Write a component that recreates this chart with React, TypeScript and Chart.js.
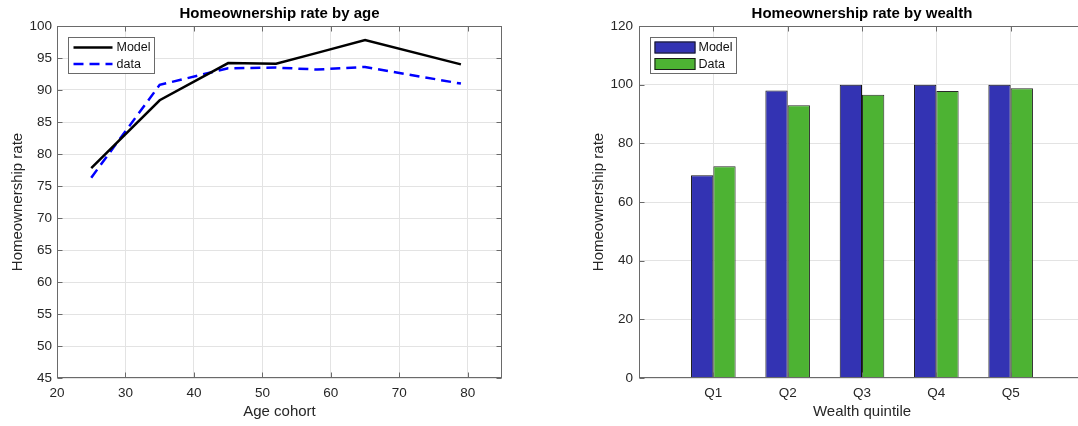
import React, { useEffect, useRef } from 'react';
import { Chart, registerables } from 'chart.js';

Chart.register(...registerables);

// ---------- data ----------
const ageCohorts = [25, 35, 45, 52, 58, 65, 79];
const modelByAge = [77.8, 88.4, 94.2, 94.1, 95.8, 97.8, 94.0];
const dataByAge = [76.3, 90.8, 93.4, 93.5, 93.2, 93.6, 91.0];

const quintiles = ['Q1', 'Q2', 'Q3', 'Q4', 'Q5'];
const modelByWealth = [69.1, 98.0, 100, 100, 100];
const dataByWealth = [72.2, 93.0, 96.6, 97.8, 98.8];

// ---------- style ----------
const FONT = "'Liberation Sans', Arial, Helvetica, sans-serif";
const AXIS = '#6a6a6a';
const GRID = '#e3e3e3';
const TEXT = '#262626';
const BLUE_BAR = 'rgb(51,51,179)';
const GREEN_BAR = 'rgb(77,179,51)';

type LegendItem = { label: string; kind: 'line' | 'patch'; color: string; dash?: number[] };

const matlabAxes = {
  id: 'matlabAxes',
  afterDraw(chart: any, _args: any, opts: any) {
    const { ctx, chartArea: a, scales } = chart;
    const L = Math.round(a.left) + 0.5;
    const R = Math.round(a.right) - 0.5;
    const T = Math.round(a.top) + 0.5;
    const B = Math.round(a.bottom) - 0.5;
    ctx.save();
    ctx.strokeStyle = AXIS;
    ctx.lineWidth = 1;
    // inside tick marks
    const tl = 5;
    ctx.beginPath();
    scales.x.ticks.forEach((t: any, i: number) => {
      if (t.label === '' || t.label === undefined) return;
      const px = Math.round(scales.x.getPixelForTick(i)) + 0.5;
      ctx.moveTo(px, B);
      ctx.lineTo(px, B - tl);
      ctx.moveTo(px, T);
      ctx.lineTo(px, T + tl);
    });
    scales.y.ticks.forEach((_t: any, i: number) => {
      const py = Math.round(scales.y.getPixelForTick(i)) + 0.5;
      ctx.moveTo(L, py);
      ctx.lineTo(L + tl, py);
      ctx.moveTo(R, py);
      ctx.lineTo(R - tl, py);
    });
    ctx.stroke();
    // box
    ctx.strokeRect(L, T, R - L, B - T);

    // legend
    const items: LegendItem[] = opts.items || [];
    if (items.length) {
      const bx = Math.round(a.left + 11) + 0.5;
      const by = Math.round(a.top + 10.5) + 0.5;
      const bw = 86;
      const bh = 36;
      ctx.fillStyle = '#ffffff';
      ctx.fillRect(bx, by, bw, bh);
      ctx.strokeStyle = AXIS;
      ctx.lineWidth = 1;
      ctx.strokeRect(bx, by, bw, bh);
      ctx.font = `12.5px ${FONT}`;
      ctx.textBaseline = 'middle';
      ctx.textAlign = 'left';
      items.forEach((it, i) => {
        const cy = by + 10 + i * 16.5;
        if (it.kind === 'line') {
          ctx.beginPath();
          ctx.strokeStyle = it.color;
          ctx.lineWidth = 2.5;
          ctx.setLineDash(it.dash || []);
          ctx.moveTo(bx + 5, cy);
          ctx.lineTo(bx + 44, cy);
          ctx.stroke();
          ctx.setLineDash([]);
        } else {
          ctx.fillStyle = it.color;
          ctx.fillRect(bx + 4, cy - 6, 41, 12);
          ctx.strokeStyle = '#1a1a1a';
          ctx.lineWidth = 1;
          ctx.strokeRect(bx + 4.5, cy - 5.5, 40, 11);
        }
        ctx.fillStyle = '#111';
        ctx.fillText(it.label, bx + 48, cy + 0.5);
      });
    }
    ctx.restore();
  },
};

function baseTitle(text: string) {
  return {
    display: true,
    text,
    color: '#000',
    font: { family: FONT, size: 15, weight: 'bold' as const },
    padding: { top: 5, bottom: 3 },
    fullSize: false,
  };
}

function axisTitle(text: string, padding: any) {
  return {
    display: true,
    text,
    color: TEXT,
    font: { family: FONT, size: 15 },
    padding,
  };
}

const tickFont = { family: FONT, size: 13.5 };

function AgeChart() {
  const ref = useRef<HTMLCanvasElement | null>(null);
  useEffect(() => {
    if (!ref.current) return;
    const chart = new Chart(ref.current, {
      type: 'line',
      data: {
        datasets: [
          {
            label: 'Model',
            data: ageCohorts.map((a, i) => ({ x: a, y: modelByAge[i] })),
            borderColor: '#000000',
            borderWidth: 2.5,
            pointRadius: 0,
            tension: 0,
          },
          {
            label: 'data',
            data: ageCohorts.map((a, i) => ({ x: a, y: dataByAge[i] })),
            borderColor: '#0000ff',
            borderWidth: 2.5,
            borderDash: [10, 6],
            pointRadius: 0,
            tension: 0,
          },
        ],
      },
      options: {
        animation: false,
        responsive: false,
        devicePixelRatio: 1,
        layout: { padding: { left: 0, right: 18, top: 0, bottom: 0 } },
        plugins: {
          legend: { display: false },
          tooltip: { enabled: false },
          title: baseTitle('Homeownership rate by age'),
          matlabAxes: {
            items: [
              { label: 'Model', kind: 'line', color: '#000000' },
              { label: 'data', kind: 'line', color: '#0000ff', dash: [10, 6] },
            ],
          },
        } as any,
        scales: {
          x: {
            type: 'linear',
            min: 20,
            max: 85,
            ticks: { stepSize: 10, includeBounds: false, font: tickFont, color: TEXT, padding: 7, maxRotation: 0 },
            grid: { color: GRID, drawTicks: false },
            border: { display: false },
            title: axisTitle('Age cohort', { top: 0, bottom: 5 }),
            afterFit: (s: any) => { s.height = 48; },
          },
          y: {
            type: 'linear',
            min: 45,
            max: 100,
            ticks: { stepSize: 5, font: tickFont, color: TEXT, padding: 5 },
            grid: { color: GRID, drawTicks: false },
            border: { display: false },
            title: axisTitle('Homeownership rate', { top: 9, bottom: 0 }),
            afterFit: (s: any) => { s.width = 57; },
          },
        },
      },
      plugins: [matlabAxes],
    } as any);
    return () => chart.destroy();
  }, []);
  return (
    <canvas
      ref={ref}
      width={520}
      height={426}
      style={{ position: 'absolute', left: 0, top: 0, width: 520, height: 426 }}
    />
  );
}

function WealthChart() {
  const ref = useRef<HTMLCanvasElement | null>(null);
  useEffect(() => {
    if (!ref.current) return;
    const labels = ['', ...quintiles, ''];
    const chart = new Chart(ref.current, {
      type: 'bar',
      data: {
        labels,
        datasets: [
          {
            label: 'Model',
            data: [null, ...modelByWealth, null],
            backgroundColor: BLUE_BAR,
            borderColor: '#141414',
            borderWidth: 1,
            borderSkipped: 'bottom',
            barPercentage: 1,
            categoryPercentage: 0.6,
          },
          {
            label: 'Data',
            data: [null, ...dataByWealth, null],
            backgroundColor: GREEN_BAR,
            borderColor: '#2a2a2a',
            borderWidth: 1,
            borderSkipped: 'bottom',
            barPercentage: 1,
            categoryPercentage: 0.6,
          },
        ],
      },
      options: {
        animation: false,
        responsive: false,
        devicePixelRatio: 1,
        layout: { padding: { left: 0, right: 15, top: 0, bottom: 0 } },
        plugins: {
          legend: { display: false },
          tooltip: { enabled: false },
          title: baseTitle('Homeownership rate by wealth'),
          matlabAxes: {
            items: [
              { label: 'Model', kind: 'patch', color: BLUE_BAR },
              { label: 'Data', kind: 'patch', color: GREEN_BAR },
            ],
          },
        } as any,
        scales: {
          x: {
            type: 'category',
            offset: false,
            ticks: { font: tickFont, color: TEXT, padding: 7, maxRotation: 0, autoSkip: false },
            grid: { color: GRID, drawTicks: false, offset: false },
            border: { display: false },
            title: axisTitle('Wealth quintile', { top: 0, bottom: 5 }),
            afterFit: (s: any) => { s.height = 48; },
          },
          y: {
            type: 'linear',
            min: 0,
            max: 120,
            ticks: { stepSize: 20, font: tickFont, color: TEXT, padding: 6 },
            grid: { color: GRID, drawTicks: false },
            border: { display: false },
            title: axisTitle('Homeownership rate', { top: 30, bottom: 0 }),
            afterFit: (s: any) => { s.width = 79; },
          },
        },
      },
      plugins: [matlabAxes],
    } as any);
    return () => chart.destroy();
  }, []);
  return (
    <canvas
      ref={ref}
      width={540}
      height={426}
      style={{ position: 'absolute', left: 560, top: 0, width: 540, height: 426 }}
    />
  );
}

export default function App() {
  return (
    <div
      style={{
        position: 'absolute',
        left: 0,
        top: 0,
        width: 1078,
        height: 426,
        overflow: 'hidden',
        background: '#ffffff',
      }}
    >
      <AgeChart />
      <WealthChart />
    </div>
  );
}
